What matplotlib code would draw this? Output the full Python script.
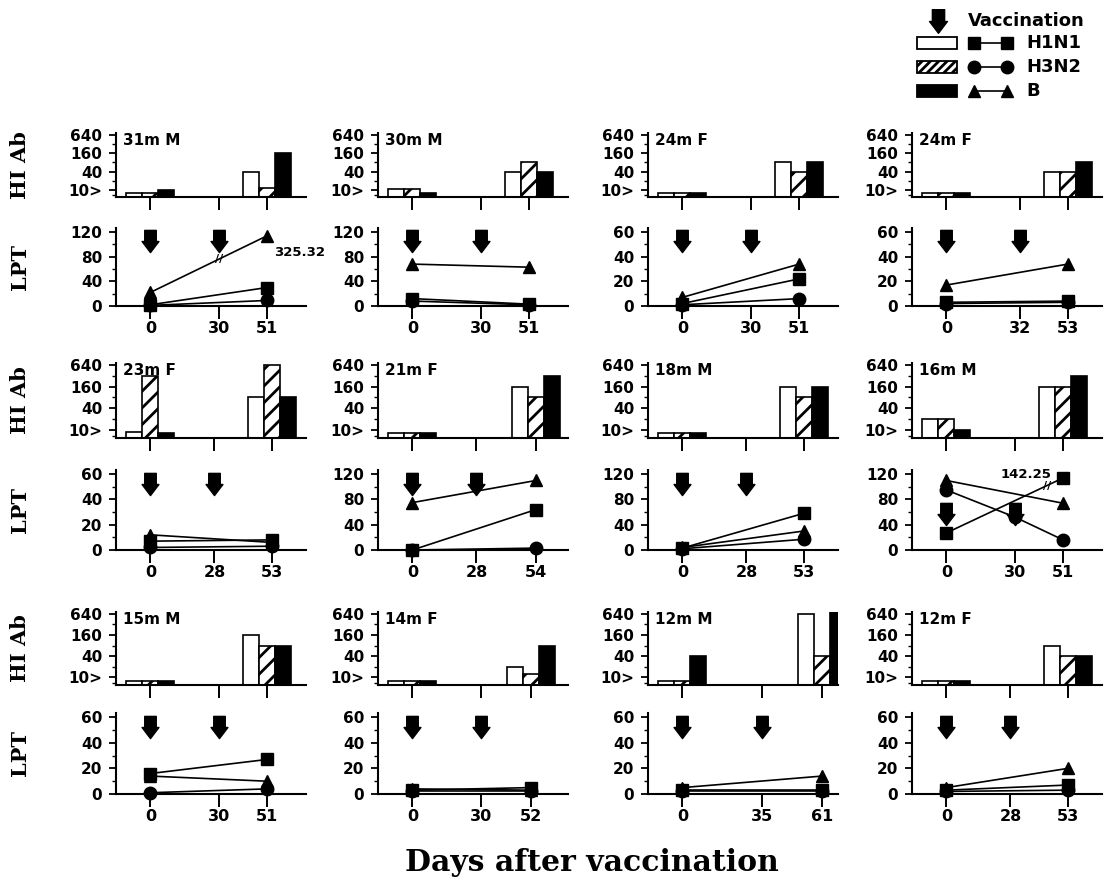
import numpy as np
import matplotlib
matplotlib.use('Agg')
import matplotlib.pyplot as plt
from matplotlib.path import Path
from matplotlib.patches import Rectangle

plt.rcParams['font.family'] = 'DejaVu Sans'
plt.rcParams['font.weight'] = 'bold'
plt.rcParams['hatch.linewidth'] = 2.0

# one entry per child, left to right, top to bottom
labels = ['31m M', '30m M', '24m F', '24m F',
          '23m F', '21m F', '18m M', '16m M',
          '15m M', '14m F', '12m M', '12m F']
days = [[0, 30, 51], [0, 30, 51], [0, 30, 51], [0, 32, 53],
        [0, 28, 53], [0, 28, 54], [0, 28, 53], [0, 30, 51],
        [0, 30, 51], [0, 30, 52], [0, 35, 61], [0, 28, 53]]
lpt_max = [120, 120, 60, 60,
           60, 120, 120, 120,
           60, 60, 60, 60]

# HI antibody titres at day 0 and last day (8 = "<10")
hi_h1n1 = [[8, 40], [11, 40], [8, 80], [8, 40],
           [9, 80], [8, 160], [8, 160], [20, 160],
           [8, 160], [8, 20], [8, 640], [8, 80]]
hi_h3n2 = [[8, 12], [11, 80], [8, 40], [8, 40],
           [320, 640], [8, 80], [8, 80], [20, 160],
           [8, 80], [8, 12], [8, 40], [8, 40]]
hi_b = [[10, 160], [8, 40], [8, 80], [8, 80],
        [8, 80], [8, 320], [8, 160], [10, 320],
        [8, 80], [8, 80], [40, 1280], [8, 40]]

# LPT at day 0, 2nd vaccination, last day (None = not measured)
lpt_h1n1 = [[2, None, 30], [12, None, 3], [2, None, 22], [3, None, 4],
            [7, None, 8], [0, None, 64], [3, None, 58], [27, None, 142.25],
            [16, None, 27], [3, None, 5], [3, None, 3], [3, None, 7]]
lpt_h3n2 = [[1, None, 9], [8, None, 2], [1, None, 6], [2, None, 3],
            [2, None, 3], [0, None, 3], [2, None, 17], [95, 52, 16],
            [1, None, 4], [2, None, 2], [2, None, 2], [2, None, 3]]
lpt_b = [[22, None, 325.32], [68, None, 63], [7, None, 34], [17, None, 34],
         [12, None, 6], [75, None, 110], [4, None, 30], [110, None, 74],
         [14, None, 10], [4, None, 3], [5, None, 14], [5, None, 20]]

W, H = 1116, 888
fig = plt.figure(figsize=(W / 100, H / 100), dpi=100)

rows_hi = [(133, 197), (363, 438), (612, 685)]
rows_lpt = [(228, 306), (470, 550), (713, 794)]
col_left = [116, 378, 648, 912]
col_w = 190

# fat block arrow used for vaccination days
arrow = Path([(-0.26, 0.5), (0.26, 0.5), (0.26, 0.0), (0.38, 0.0), (0, -0.5),
              (-0.38, 0.0), (-0.26, 0.0), (-0.26, 0.5)],
             [Path.MOVETO] + [Path.LINETO] * 6 + [Path.CLOSEPOLY])
arrow_y = [0.83] * 12
arrow_y[7] = 0.45


def px_axes(x0, top, w, bottom):
    return fig.add_axes([x0 / W, 1 - bottom / H, w / W, (bottom - top) / H])


def style(ax):
    for s in ['top', 'right']:
        ax.spines[s].set_visible(False)
    for s in ['left', 'bottom']:
        ax.spines[s].set_linewidth(1.5)
    ax.tick_params(axis='x', length=9, width=1.4, labelsize=11.5, pad=2)
    ax.tick_params(axis='y', which='major', length=5, width=1.3, labelsize=11, pad=5)
    ax.tick_params(axis='y', which='minor', length=3, width=1.0)
    ax.set_xlim(-15, 68)


for i in range(12):
    r, c = divmod(i, 4)
    d = days[i]

    # HI Ab bars
    ax = px_axes(col_left[c], rows_hi[r][0], col_w, rows_hi[r][1])
    style(ax)
    ax.set_yscale('log')
    lo, hi_top = 6, 720
    ax.set_ylim(lo, hi_top)
    xs = np.array([d[0], d[2]])
    bw = 7
    ax.bar(xs - bw, np.array(hi_h1n1[i]) - lo, bw, bottom=lo, color='white', edgecolor='k', lw=1.2)
    ax.bar(xs, np.array(hi_h3n2[i]) - lo, bw, bottom=lo, color='white', edgecolor='k', lw=1.2, hatch='//')
    ax.bar(xs + bw, np.array(hi_b[i]) - lo, bw, bottom=lo, color='k', edgecolor='k', lw=1.2)
    ax.set_yticks([10, 40, 160, 640])
    ax.set_yticklabels(['10>', '40', '160', '640'])
    ax.set_yticks([7, 20, 80, 320], minor=True)
    ax.set_yticklabels([], minor=True)
    ax.set_xticks(d)
    ax.set_xticklabels([])
    ax.text(0.035, 1.0, labels[i], transform=ax.transAxes, ha='left', va='top', fontsize=11)

    # LPT lines
    ax = px_axes(col_left[c], rows_lpt[r][0], col_w, rows_lpt[r][1])
    style(ax)
    ymax = lpt_max[i]
    ax.set_ylim(0, ymax * 1.055)
    ax.set_yticks(np.linspace(0, ymax, 4))
    ax.set_yticks(np.linspace(ymax / 6, ymax * 5 / 6, 3), minor=True)
    ax.set_xticks(d)
    ax.set_xticklabels([str(v) for v in d])

    for vals, m in [(lpt_b[i], '^'), (lpt_h3n2[i], 'o'), (lpt_h1n1[i], 's')]:
        px = [d[k] for k in range(3) if vals[k] is not None]
        py = [vals[k] for k in range(3) if vals[k] is not None]
        over = [v > ymax for v in py]
        py_plot = [min(v, ymax * 0.95) for v in py]
        ax.plot(px, py_plot, '-', color='k', lw=1.2, marker=m, ms=9, mfc='k', mec='k',
                clip_on=False, zorder=3)
        if any(over):
            # off-scale value: broken line and the real value written out
            bx = 30 if i == 0 else 44
            by = np.interp(bx, px, py_plot)
            ax.text(bx, by, '//', ha='center', va='center', fontsize=8, zorder=4)
            if i == 0:
                ax.text(px[-1] + 3, ymax * 0.72, f'{py[-1]:.2f}', ha='left', va='center',
                        fontsize=9.5, clip_on=False)
            else:
                ax.text(px[-1] - 5, ymax * 1.0, f'{py[-1]:.2f}', ha='right', va='center',
                        fontsize=9.5, clip_on=False)

    ax.plot([d[0], d[1]], [arrow_y[i]] * 2, ls='none', marker=arrow, ms=16, color='k',
            transform=ax.get_xaxis_transform(), clip_on=False, zorder=5)

# row labels
for r in range(3):
    yc = (rows_hi[r][0] + rows_hi[r][1]) / 2
    fig.text(20 / W, 1 - yc / H, 'HI Ab', rotation=90, ha='center', va='center',
             family='DejaVu Serif', weight='bold', fontsize=15)
    yc = (rows_lpt[r][0] + rows_lpt[r][1]) / 2
    fig.text(20 / W, 1 - yc / H, 'LPT', rotation=90, ha='center', va='center',
             family='DejaVu Serif', weight='bold', fontsize=15)

fig.text(592 / W, 1 - 862 / H, 'Days after vaccination', ha='center', va='center',
         family='DejaVu Serif', weight='bold', fontsize=21.5)

# legend
lg = fig.add_axes([900 / W, 1 - 105 / H, 216 / W, 105 / H])
lg.set_xlim(900, 1116)
lg.set_ylim(105, 0)
lg.axis('off')
lg.plot([938], [21], marker=arrow, ms=17, color='k', ls='none')
lg.text(968, 21, 'Vaccination', ha='left', va='center', fontsize=13)
leg_rows = [('H1N1', 'white', None, 's', 43), ('H3N2', 'white', '////', 'o', 67),
            ('B', 'k', None, '^', 91)]
for name, fc, hatch, m, y in leg_rows:
    lg.add_patch(Rectangle((917, y - 6), 40, 12, facecolor=fc, edgecolor='k', lw=1.3, hatch=hatch))
    lg.plot([974, 1007], [y, y], '-', color='k', lw=1.2, marker=m, ms=9, mfc='k', mec='k')
    lg.text(1026, y, name, ha='left', va='center', fontsize=13)

fig.savefig('out.png', dpi=100)
